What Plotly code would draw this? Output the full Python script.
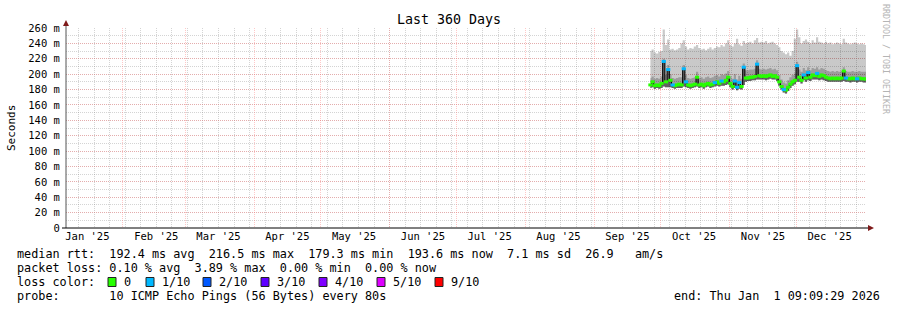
import plotly.graph_objects as go
import pandas as pd

# ---------------- data ----------------
x_start = "2025-01-06 09:09:29"
x_end = "2026-01-01 09:09:29"
data_start = "2025-09-26 09:00"

month_starts = ["2025-02-01", "2025-03-01", "2025-04-01", "2025-05-01", "2025-06-01",
                "2025-07-01", "2025-08-01", "2025-09-01", "2025-10-01", "2025-11-01",
                "2025-12-01", "2026-01-01"]
month_label_pos = ["2025-01-16", "2025-02-16", "2025-03-16", "2025-04-16", "2025-05-16",
                   "2025-06-16", "2025-07-16", "2025-08-16", "2025-09-16", "2025-10-16",
                   "2025-11-16", "2025-12-16"]
month_labels = ["Jan '25", "Feb '25", "Mar '25", "Apr '25", "May '25", "Jun '25",
                "Jul '25", "Aug '25", "Sep '25", "Oct '25", "Nov '25", "Dec '25"]
y_tick_vals = [0, 20, 40, 60, 80, 100, 120, 140, 160, 180, 200, 220, 240, 260]
y_tick_text = ["0", "20 m", "40 m", "60 m", "80 m", "100 m", "120 m", "140 m", "160 m",
               "180 m", "200 m", "220 m", "240 m", "260 m"]

# median rtt (ms), one value per day
median = [186, 190, 185, 186, 185, 188, 216.5, 190, 206, 192,
          186, 185, 186, 187, 186, 207, 190, 186, 185, 186,
          187, 196, 186, 187, 185, 187, 188, 186, 187, 189,
          190, 188, 191, 190, 192, 196, 188, 184, 191, 183,
          189, 184, 209, 195, 195, 196, 196, 197, 213, 198,
          197, 198, 197, 198, 199, 197, 198, 196, 190, 184,
          180, 179.3, 183, 187, 190, 192, 211, 196, 192, 199,
          195, 202, 196, 199, 198, 201, 197, 199, 198, 196,
          195, 194, 195, 194, 195, 194, 195, 204, 195, 194,
          194, 195, 194, 194, 195, 194, 194, 193.6]
# min ping (ms)
rtt_min = [182, 183, 181, 182, 181, 182, 184, 183, 183, 183,
           182, 181, 182, 182, 182, 184, 183, 182, 181, 182,
           183, 184, 182, 183, 181, 183, 184, 182, 183, 184,
           185, 184, 185, 185, 186, 187, 183, 180, 182, 179,
           181, 180, 186, 190, 191, 191, 192, 192, 193, 193,
           193, 193, 192, 193, 194, 193, 193, 191, 185, 180,
           176, 175, 178, 182, 185, 187, 190, 190, 188, 192,
           190, 192, 191, 193, 193, 193, 192, 193, 192, 191,
           190, 190, 190, 190, 190, 190, 190, 191, 190, 190,
           189, 190, 190, 189, 190, 190, 189, 189]
# upper inner smoke (ms)
rtt_upper = [195, 197, 194, 195, 194, 197, 220, 199, 212, 200,
             195, 194, 195, 196, 196, 212, 199, 195, 194, 195,
             196, 203, 195, 196, 194, 196, 197, 195, 196, 198,
             199, 197, 200, 199, 201, 204, 197, 194, 200, 193,
             198, 194, 214, 205, 205, 206, 206, 207, 218, 207,
             206, 207, 206, 207, 208, 206, 207, 205, 199, 193,
             189, 188, 192, 196, 199, 201, 216, 206, 203, 208,
             205, 209, 205, 208, 207, 209, 206, 208, 207, 205,
             204, 203, 204, 203, 204, 203, 204, 209, 204, 203,
             203, 204, 203, 203, 204, 203, 203, 203]
# max ping (ms)
rtt_max = [230, 232, 228, 227, 229, 230, 258, 238, 245, 232,
           233, 231, 232, 234, 240, 244, 236, 232, 234, 233,
           236, 238, 234, 232, 233, 231, 233, 235, 232, 234,
           236, 235, 238, 236, 240, 244, 238, 236, 240, 246,
           239, 237, 243, 240, 241, 242, 240, 244, 247, 241,
           242, 241, 243, 240, 241, 242, 240, 238, 235, 230,
           228, 226, 228, 224, 230, 246, 258, 248, 240, 243,
           245, 242, 240, 244, 241, 248, 242, 241, 240, 242,
           240, 241, 239, 240, 241, 240, 239, 246, 241, 240,
           239, 240, 241, 240, 239, 240, 239, 238]
# lost pings out of 10
loss = [0, 0, 0, 0, 0, 0, 1, 0, 1, 0,
        1, 0, 0, 0, 0, 1, 1, 0, 0, 0,
        0, 0, 0, 0, 0, 0, 0, 0, 0, 1,
        0, 0, 1, 0, 0, 0, 0, 0, 1, 1,
        1, 0, 1, 0, 0, 0, 0, 0, 1, 0,
        0, 0, 0, 0, 0, 0, 0, 0, 0, 0,
        1, 0, 0, 0, 0, 0, 1, 0, 0, 1,
        0, 1, 0, 0, 0, 1, 0, 0, 0, 0,
        0, 0, 0, 0, 0, 0, 0, 0, 1, 0,
        0, 0, 0, 1, 0, 0, 0, 0]

loss_levels = [0, 1, 2, 3, 4, 5, 9]
loss_labels = ["0", "1/10", "2/10", "3/10", "4/10", "5/10", "9/10"]
loss_colors = ["#26ff00", "#00b8ff", "#0059ff", "#5e00ff", "#7e00ff", "#dd00ff", "#ff0000"]

legend_lines = [
    "median rtt:  192.4 ms avg  216.5 ms max  179.3 ms min  193.6 ms now  7.1 ms sd  26.9   am/s",
    "packet loss: 0.10 % avg  3.89 % max  0.00 % min  0.00 % now",
    "loss color:",
    "probe:       10 ICMP Echo Pings (56 Bytes) every 80s",
]
end_text = "end: Thu Jan  1 09:09:29 2026"

# ---------------- figure ----------------
W, H = 897, 310
L, R, T, B = 66, 31, 28, 82
PW, PH = W - L - R, H - T - B

def px(x):
    return (x - L) / PW

def py(y):
    return (H - B - y) / PH

dates = pd.date_range(data_start, periods=len(median), freq="D")
mono = "DejaVu Sans Mono"

fig = go.Figure()
shape = "hvh"

def band(lower, upper, color):
    fig.add_trace(go.Scatter(x=dates, y=lower, mode="lines", line=dict(width=0, shape=shape),
                             showlegend=False, hoverinfo="skip"))
    fig.add_trace(go.Scatter(x=dates, y=upper, mode="lines", line=dict(width=0, shape=shape),
                             fill="tonexty", fillcolor=color, showlegend=False, hoverinfo="skip"))

band(rtt_min, rtt_max, "rgba(0,0,0,0.21)")
band(rtt_min, rtt_upper, "rgba(0,0,0,0.22)")
band(rtt_min, median, "rgba(0,0,0,0.38)")

fig.add_trace(go.Scatter(x=dates, y=median, mode="lines",
                         line=dict(color="#000000", width=1, shape=shape),
                         showlegend=False, hoverinfo="skip"))

for lvl, col in zip(loss_levels, loss_colors):
    xs = [d for d, l in zip(dates, loss) if l == lvl]
    ys = [m for m, l in zip(median, loss) if l == lvl]
    if not xs:
        continue
    fig.add_trace(go.Scatter(x=xs, y=ys, mode="markers",
                             marker=dict(symbol="line-ew", size=3, color=col,
                                         line=dict(color=col, width=3)),
                             showlegend=False, hoverinfo="skip"))

# dummy trace to realise the label axis
fig.add_trace(go.Scatter(x=[x_start, x_end], y=[None, None], xaxis="x2", mode="lines",
                         showlegend=False, hoverinfo="skip"))

red_grid = "rgba(255,110,110,0.38)"
gray_grid = "rgba(120,120,120,0.32)"
dots = "1px,1px"

fig.update_layout(
    width=W, height=H,
    margin=dict(l=L, r=R, t=T, b=B, pad=0),
    paper_bgcolor="white", plot_bgcolor="white",
    showlegend=False,
    font=dict(family=mono, size=10.5, color="#000000"),
    xaxis=dict(type="date", range=[x_start, x_end], tickmode="array", tickvals=month_starts,
               showticklabels=False, ticks="", showgrid=True, gridcolor=red_grid,
               griddash=dots, gridwidth=1, zeroline=False, showline=False,
               minor=dict(showgrid=True, tickmode="linear", tick0="2025-01-05",
                          dtick=7 * 86400000, gridcolor=gray_grid, griddash=dots, gridwidth=1)),
    xaxis2=dict(type="date", range=[x_start, x_end], overlaying="x", anchor="y", side="bottom",
                tickmode="array", tickvals=month_label_pos, ticktext=month_labels,
                showgrid=False, zeroline=False, showline=False, ticks="",
                tickfont=dict(family=mono, size=10.5, color="#000000")),
    yaxis=dict(range=[0, 260], tickmode="array", tickvals=y_tick_vals, ticktext=y_tick_text,
               showgrid=True, gridcolor=red_grid, griddash=dots, gridwidth=1,
               zeroline=False, showline=False, ticks="outside", ticklen=3, tickcolor="white",
               tickfont=dict(family=mono, size=10.5, color="#000000"),
               minor=dict(showgrid=True, tickmode="linear", dtick=10, gridcolor=gray_grid,
                          griddash=dots, gridwidth=1)),
)

shapes = []
# axis lines + arrows
shapes.append(dict(type="line", xref="paper", yref="paper", x0=px(66), x1=px(66),
                   y0=py(228), y1=py(23), line=dict(color="#555555", width=1)))
shapes.append(dict(type="line", xref="paper", yref="paper", x0=px(62), x1=px(869),
                   y0=py(228), y1=py(228), line=dict(color="#000000", width=1)))
shapes.append(dict(type="path", xref="paper", yref="paper",
                   path=f"M {px(66)},{py(20)} L {px(63)},{py(26)} L {px(69)},{py(26)} Z",
                   fillcolor="#7f1a1a", line=dict(width=0)))
shapes.append(dict(type="path", xref="paper", yref="paper",
                   path=f"M {px(874)},{py(228)} L {px(868)},{py(225)} L {px(868)},{py(231)} Z",
                   fillcolor="#7f1a1a", line=dict(width=0)))

# loss colour swatches
sq_left = [108, 146, 203, 261, 319, 377, 435]
lab_left = [123, 161, 218, 276, 334, 392, 450]
for xl, col in zip(sq_left, loss_colors):
    shapes.append(dict(type="rect", xref="paper", yref="paper", x0=px(xl), x1=px(xl + 8),
                       y0=py(286.5), y1=py(277.5), fillcolor=col,
                       line=dict(color="#222222", width=1)))
fig.update_layout(shapes=shapes)

def nb(s):
    return s.replace(" ", "\u00a0")

legend_font = dict(family=mono, size=11.8, color="#000000")
ann = []
ann.append(dict(text=nb("Last 360 Days"), xref="paper", yref="paper", x=px(448.5), y=py(19),
                xanchor="center", yanchor="middle", showarrow=False,
                font=dict(family=mono, size=13.3, color="#000000")))
ann.append(dict(text="Seconds", xref="paper", yref="paper", x=px(11), y=py(128),
                xanchor="center", yanchor="middle", textangle=-90, showarrow=False,
                font=dict(family=mono, size=11, color="#000000")))
ann.append(dict(text=nb("RRDTOOL / TOBI OETIKER"), xref="paper", yref="paper", x=px(886), y=py(59),
                xanchor="center", yanchor="middle", textangle=90, showarrow=False,
                font=dict(family=mono, size=8.3, color="#b4b4b4")))
for i, line in enumerate(legend_lines):
    ann.append(dict(text=nb(line), xref="paper", yref="paper", x=px(16), y=py(254 + 14 * i),
                    xanchor="left", yanchor="middle", showarrow=False, font=legend_font))
for xl, lab in zip(lab_left, loss_labels):
    ann.append(dict(text=lab, xref="paper", yref="paper", x=px(xl), y=py(282),
                    xanchor="left", yanchor="middle", showarrow=False, font=legend_font))
ann.append(dict(text=nb(end_text), xref="paper", yref="paper", x=px(881), y=py(296),
                xanchor="right", yanchor="middle", showarrow=False, font=legend_font))
for a in ann:
    a["borderpad"] = 0
fig.update_layout(annotations=ann)

fig.write_html("out.html")
